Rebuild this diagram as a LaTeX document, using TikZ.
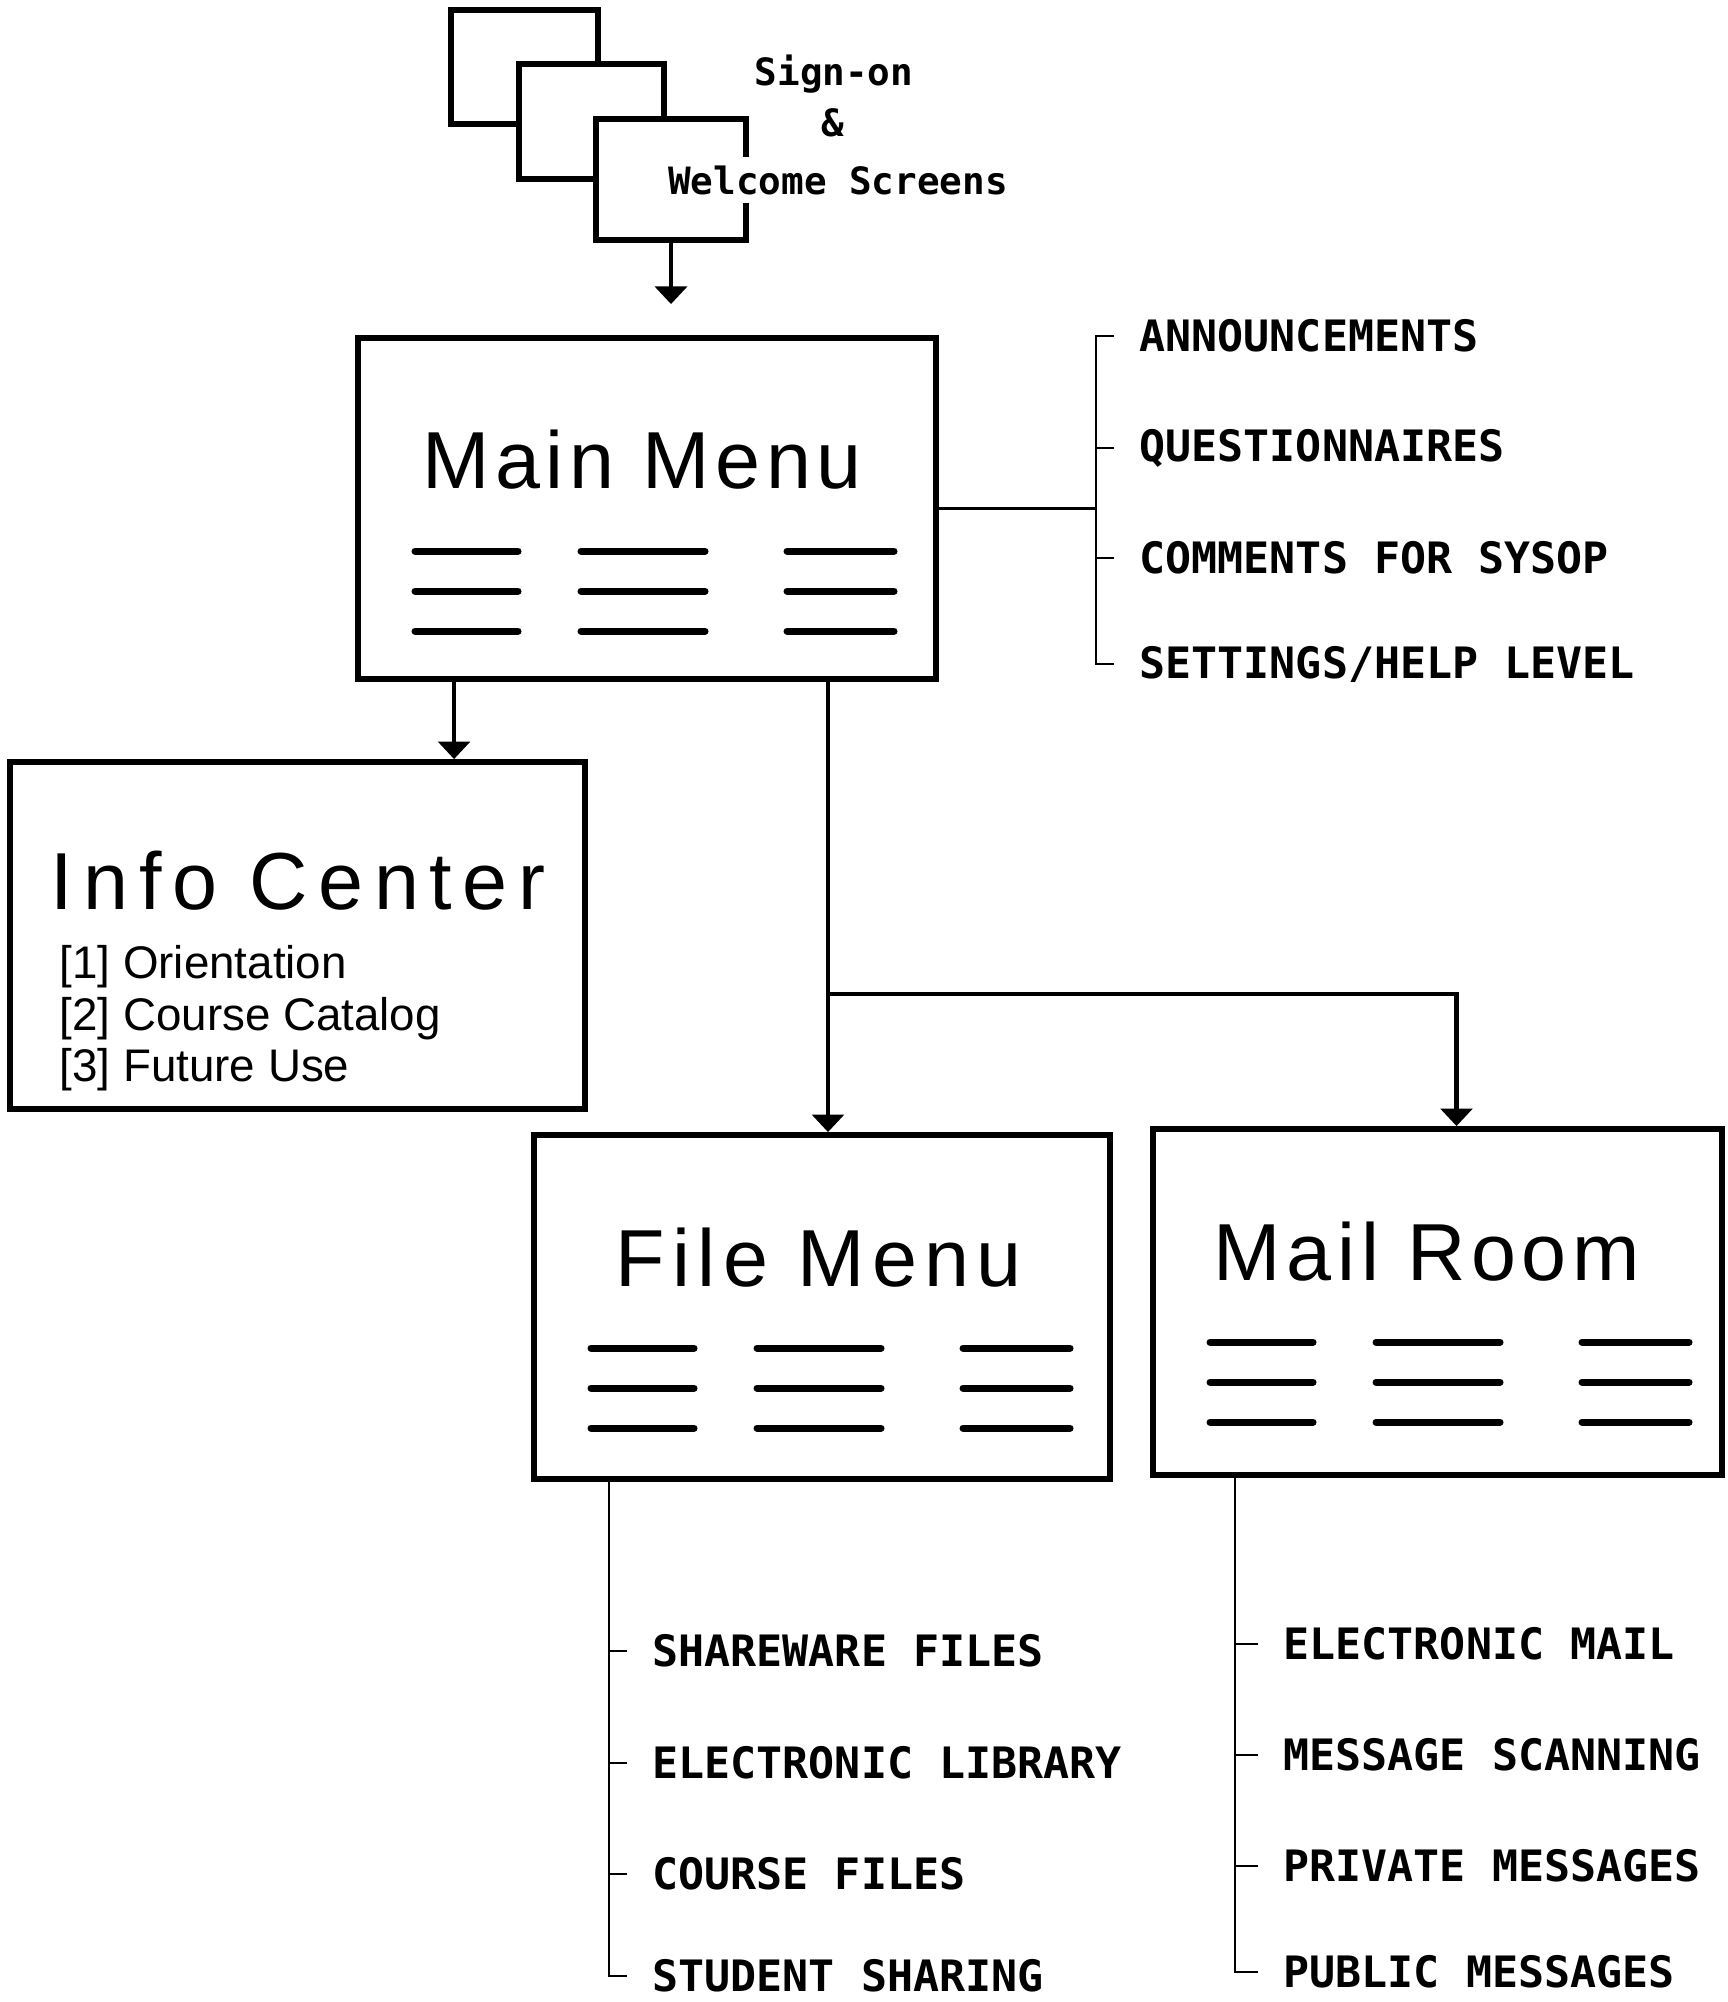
\documentclass[tikz,border=0pt]{standalone}
\usepackage{fontspec}
\setmainfont{Liberation Sans}
\newfontfamily\menufont{DejaVu Sans Mono}
\usetikzlibrary{arrows.meta}
\tikzset{
	screenbox/.style={draw, fill=white, line width=1.5pt, inner sep=0pt},
	menubox/.style={draw, fill=white, line width=1.6pt, inner sep=0pt},
	boxtitle/.style={font=\fontsize{23}{28}\selectfont, inner sep=0pt},
	infoitem/.style={font=\fontsize{13}{16}\selectfont, anchor=west, inner sep=0pt},
	option/.style={font=\menufont\bfseries\fontsize{12.3}{14}\selectfont, anchor=west, inner xsep=0.25cm, inner ysep=0pt},
	screentext/.style={font=\menufont\bfseries\fontsize{10.7}{13}\selectfont, inner sep=0pt},
	branch/.style={line width=0.8pt},
	arr/.style={line width=1.3pt, -{Triangle[width=9pt,length=5pt]}},
	menuline/.style={line width=2pt, line cap=round}
}
% three columns of menu entries inside a box
\newcommand{\menulines}[1]{%
	\begin{scope}[shift={(#1.north west)}]
		\foreach \y in {216,256,296} {
			\draw[menuline] (60,\y) -- (163,\y);
			\draw[menuline] (226,\y) -- (350,\y);
			\draw[menuline] (432,\y) -- (539,\y);
		}
	\end{scope}}

\begin{document}
\begin{tikzpicture}[x=0.01cm, y=-0.01cm]
		\useasboundingbox (0,0) rectangle (1728,2002);

		% Stacked sign-on screens
		\node[screenbox, minimum width=1.47cm, minimum height=1.14cm] (s1) at (524.5,67) {};
		\node[screenbox, minimum width=1.45cm, minimum height=1.15cm] (s2) at (591.5,121.5) {};
		\node[screenbox, minimum width=1.50cm, minimum height=1.21cm] (s3) at (671,179.5) {};
		\node[screentext] (signon) at (834,74) {Sign-on};
		\node[screentext] (amp) at (833,123) {\&};
		\node[screentext, fill=white, inner ysep=2.5pt] (welcome) at (838,180) {Welcome Screens};

		% Main menu
		\node[menubox, minimum width=5.78cm, minimum height=3.41cm] (mm) at (647,508.5) {};
		\node[boxtitle] (mm-title) at (642,460) {\addfontfeatures{LetterSpace=7}Main Menu};
		\menulines{mm}
		\draw[arr, shorten >=0.31cm] (s3.south) -- (s3.south |- mm.north);

		% Options hanging off the main menu
		\coordinate (mbus) at (1096,508.5);
		\node[option] (a1) at (1114,336) {ANNOUNCEMENTS};
		\node[option] (a2) at (1114,448) {QUESTIONNAIRES};
		\node[option] (a3) at (1114,558) {COMMENTS FOR SYSOP};
		\node[option] (a4) at (1114,664) {SETTINGS/HELP LEVEL};
		\draw[branch] (mm.east) -- (mbus);
		\draw[branch] (a1.west) -- (a1.west -| mbus) -- (a4.west -| mbus) -- (a4.west);
		\draw[branch] (a2.west) -- (a2.west -| mbus);
		\draw[branch] (a3.west) -- (a3.west -| mbus);

		% Info center
		\node[menubox, minimum width=5.75cm, minimum height=3.47cm] (ic) at (297.5,935.5) {};
		\node[boxtitle] (ic-title) at (298,881) {\addfontfeatures{LetterSpace=13}Info Center};
		\node[infoitem] (i1) at (59,967) {[1] Orientation};
		\node[infoitem] (i2) at (59,1019) {[2] Course Catalog};
		\node[infoitem] (i3) at (59,1070) {[3] Future Use};
		\draw[arr] ([xshift=0.99cm]mm.south west) -- ([xshift=0.99cm]mm.south west |- ic.north);

		% File menu and mail room
		\node[menubox, minimum width=5.76cm, minimum height=3.44cm] (fm) at (822,1307) {};
		\node[boxtitle] (fm-title) at (819,1258) {\addfontfeatures{LetterSpace=9}File Menu};
		\menulines{fm}
		\node[menubox, minimum width=5.69cm, minimum height=3.46cm] (mr) at (1437.5,1302) {};
		\node[boxtitle] (mr-title) at (1427,1252) {\addfontfeatures{LetterSpace=7}Mail Room};
		\menulines{mr}

		\coordinate (split) at (828,994);
		\draw[arr] (mm.south -| split) -- (split |- fm.north);
		\draw[arr] (split) -| ([xshift=0.19cm]mr.north);

		% File menu entries
		\coordinate (fbus) at (609,1479);
		\node[option] (f1) at (627,1651) {SHAREWARE FILES};
		\node[option] (f2) at (627,1763) {ELECTRONIC LIBRARY};
		\node[option] (f3) at (627,1874) {COURSE FILES};
		\node[option] (f4) at (627,1976) {STUDENT SHARING};
		\draw[branch] (fbus) -- (fbus |- f4.west) -- (f4.west);
		\foreach \n in {f1,f2,f3}
			\draw[branch] (\n.west) -- (\n.west -| fbus);

		% Mail room entries
		\coordinate (rbus) at (1235,1475);
		\node[option] (m1) at (1258,1644) {ELECTRONIC MAIL};
		\node[option] (m2) at (1258,1755) {MESSAGE SCANNING};
		\node[option] (m3) at (1258,1866) {PRIVATE MESSAGES};
		\node[option] (m4) at (1258,1972) {PUBLIC MESSAGES};
		\draw[branch] (rbus) -- (rbus |- m4.west) -- (m4.west);
		\foreach \n in {m1,m2,m3}
			\draw[branch] (\n.west) -- (\n.west -| rbus);
	\end{tikzpicture}
\end{document}
